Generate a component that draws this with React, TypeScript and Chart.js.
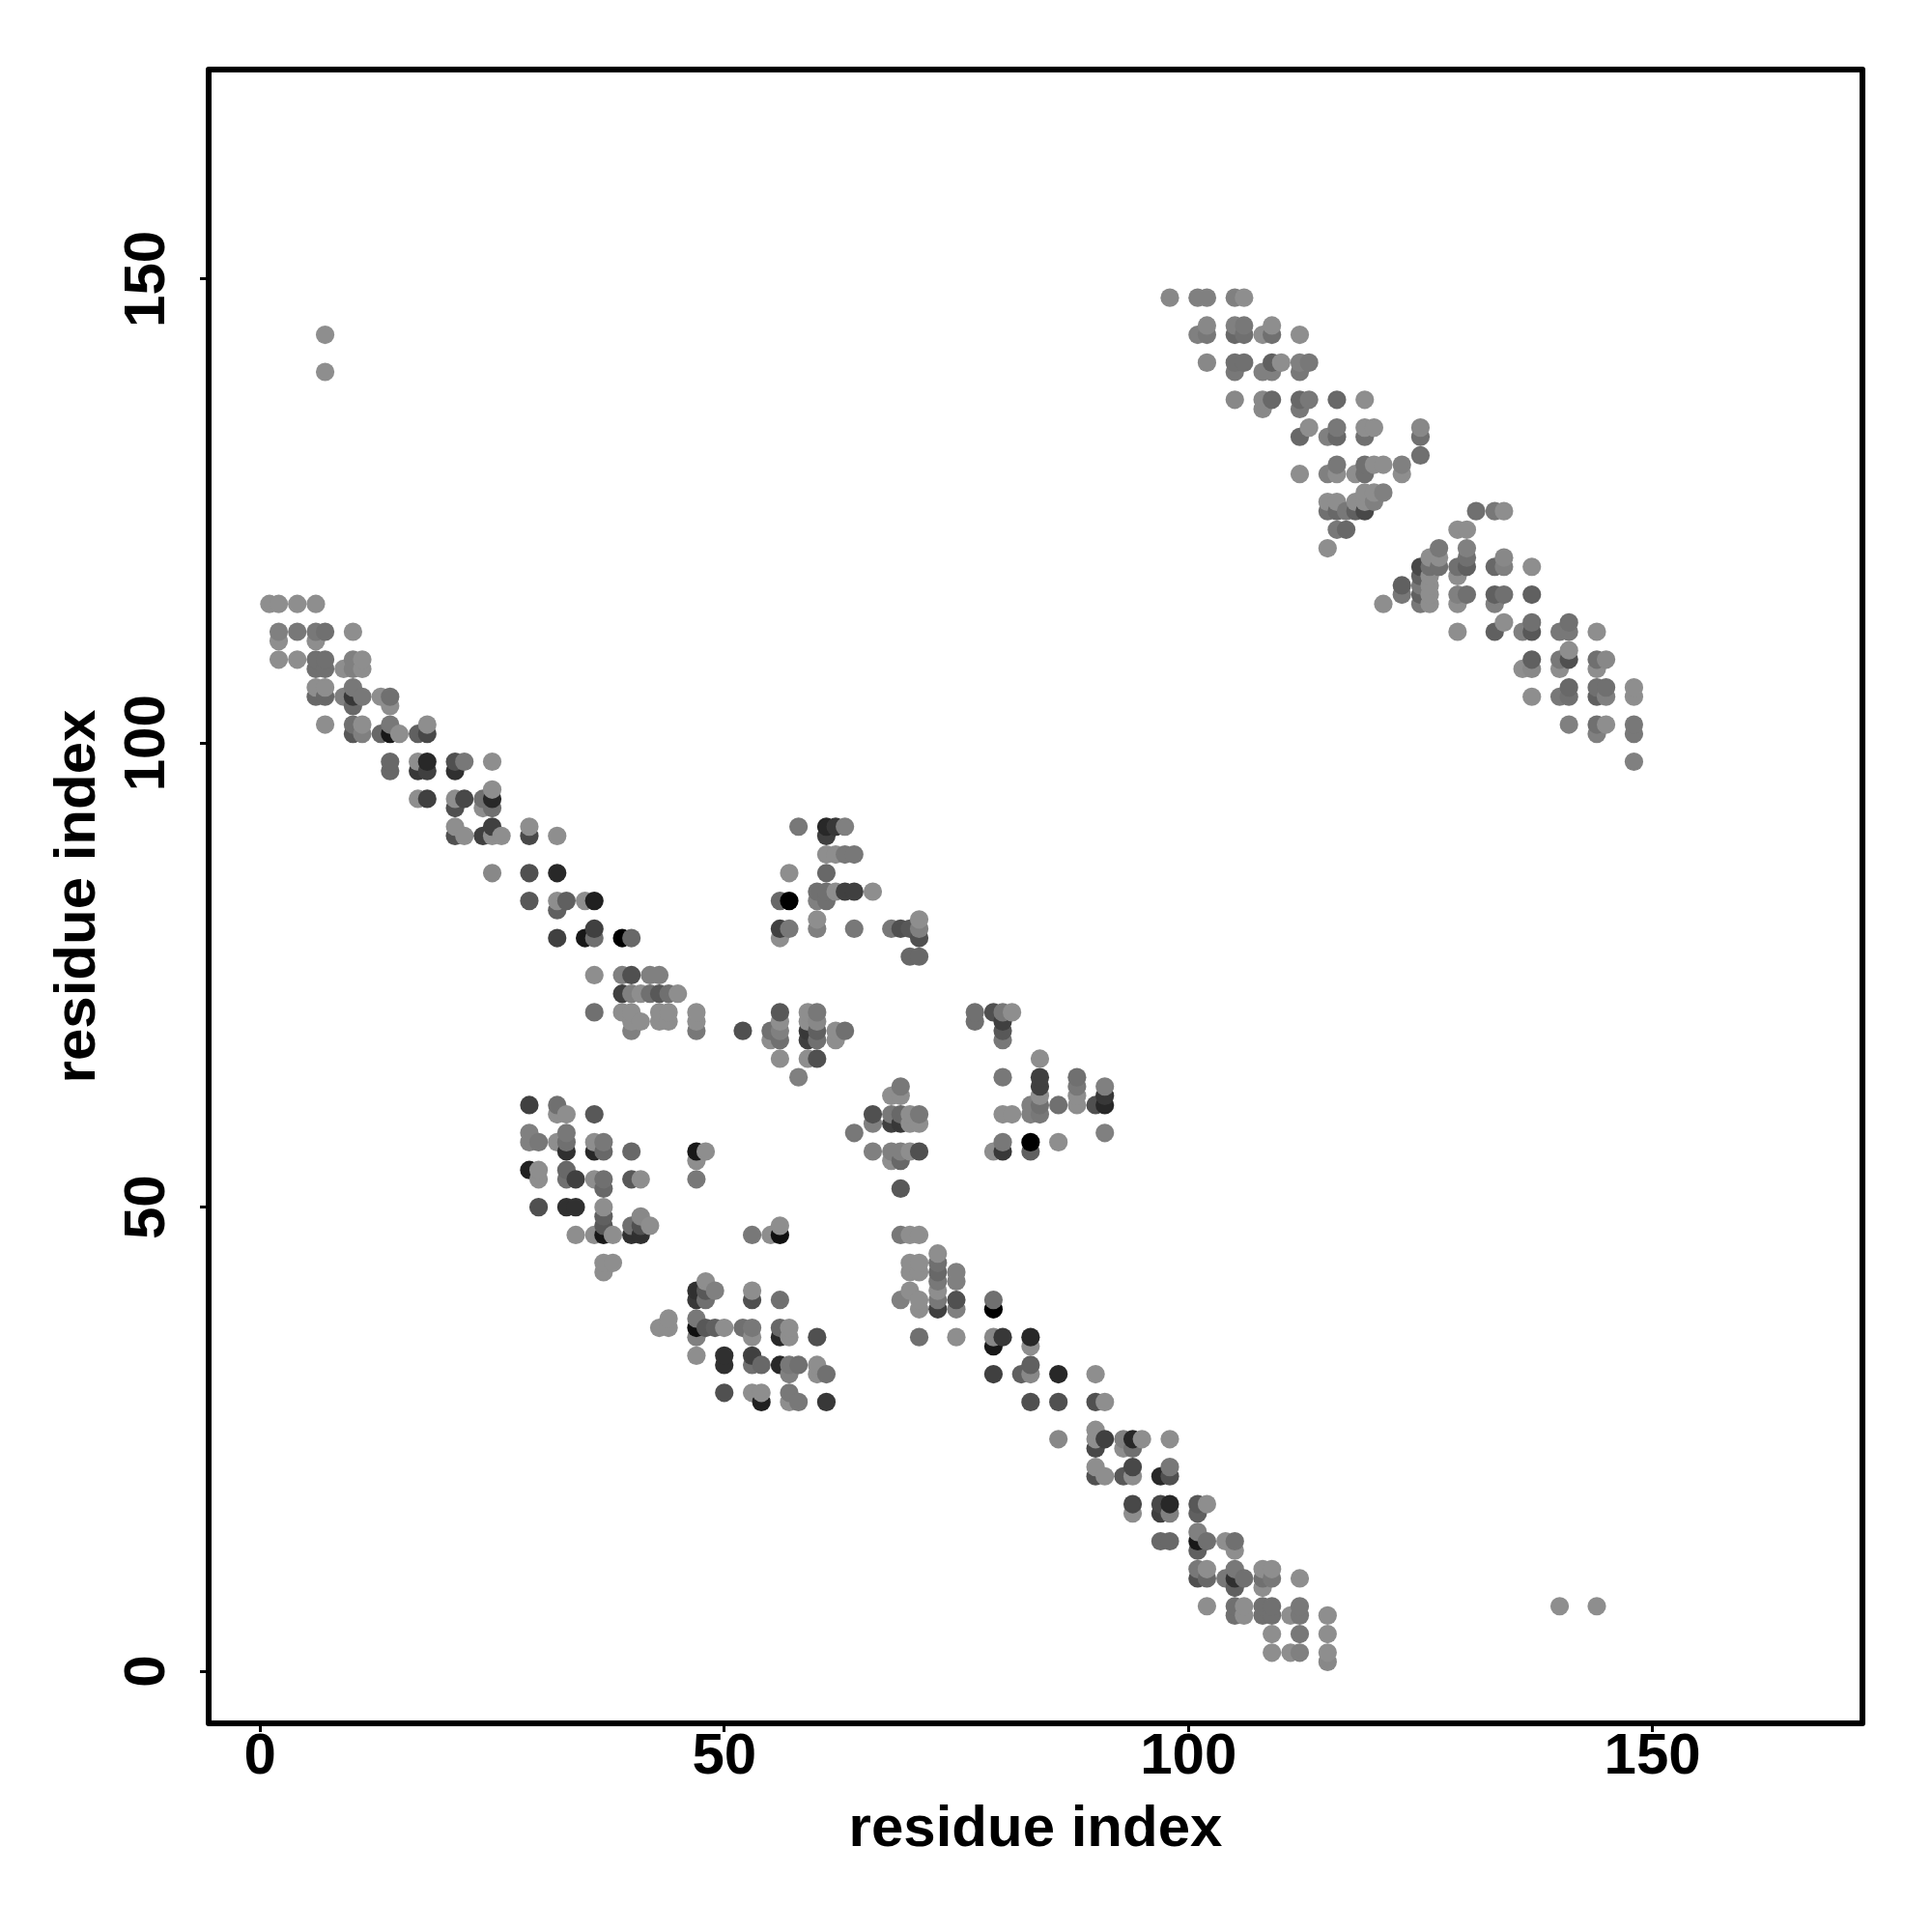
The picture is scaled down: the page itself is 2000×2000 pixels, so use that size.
import React, { useEffect, useRef } from "react";
import { Chart, registerables } from "chart.js";

Chart.register(...registerables);

type Contact = [number, number, number];
const L = 0x8e;

const tickValues = [0, 50, 100, 150];
const axisName = "residue index";

// [residue i, residue j, contact grey level]
const strandA: Contact[] = [
  [1,115,L],[2,115,L],[4,115,L],[6,115,L],
  [2,112,0x80],[4,112,0x78],[6,112,0x78],[7,112,0x70],[10,112,L],
  [2,111,L],[6,111,L],
  [2,109,L],[4,109,L],[6,109,0x70],[7,109,0x70],[10,109,0x80],[11,109,L],
  [6,108,0x70],[7,108,0x70],[9,108,L],[10,108,0x80],[11,108,L],
  [6,106,L],[7,106,L],[10,106,0x78],
  [6,105,0x68],[7,105,0x68],[9,105,0x80],[10,105,0x38],[11,105,0x78],[13,105,L],[14,105,0x70],
  [10,104,0x68],[14,104,L],
  [7,102,L],[10,102,0x70],[11,102,L],[14,102,0x78],[18,102,L],
  [10,101,0x58],[11,101,0x80],[13,101,0x68],[14,101,0x18],[15,101,L],[17,101,0x60],[18,101,0x48],
  [14,98,0x68],[17,98,L],[18,98,0x28],[21,98,0x50],[22,98,0x78],[25,98,L],
  [14,97,0x68],[17,97,0x38],[18,97,0x40],[21,97,0x30],
  [25,95,L],
  [17,94,L],[18,94,0x40],[21,94,L],[22,94,0x48],[24,94,0x70],[25,94,0x28],
  [21,93,0x50],[24,93,L],[25,93,0x70],
  [21,91,L],[25,91,0x40],[29,91,L],
  [21,90,0x50],[22,90,L],[24,90,0x40],[25,90,L],[26,90,L],[29,90,0x48],[32,90,L],
  [25,86,0x88],[29,86,0x50],[32,86,0x28],
  [29,83,0x58],[32,83,L],[33,83,0x60],[35,83,L],[36,83,0x20],
  [32,82,0x60],[36,80,0x40],
  [32,79,0x40],[35,79,0x18],[36,79,0x70],[39,79,0x00],[40,79,0x68],
  [36,75,L],[39,75,0x80],[40,75,0x50],[42,75,0x80],[43,75,0x80],
  [39,73,0x40],[40,73,0x80],[41,73,L],[42,73,0x70],[43,73,0x58],[44,73,0x70],[45,73,L],
  [36,71,0x70],[39,71,L],[40,71,L],[43,71,L],[44,71,L],[47,71,L],
  [40,70,L],[41,70,L],[43,70,L],[44,70,L],[47,70,L],
  [40,69,0x80],[47,69,0x78],
];

const blockTop: Contact[] = [
  [58,91,0x78],[61,91,0x28],[62,91,0x38],[63,91,0x80],[61,90,0x40],
  [61,88,L],[62,88,L],[63,88,0x78],[64,88,0x78],
  [57,86,L],[61,86,0x68],
  [60,84,0x70],[61,84,0x70],[62,84,L],[63,84,0x40],[64,84,0x40],[66,84,L],
  [56,83,0x68],[57,83,0x00],[60,83,0x80],[61,83,0x70],
  [60,81,L],[71,81,L],
  [56,80,0x40],[57,80,0x78],[60,80,0x80],[64,80,0x78],[68,80,0x78],[69,80,0x50],[70,80,0x58],[71,80,0x80],
  [56,79,L],[71,79,0x50],[70,77,0x68],[71,77,0x68],
];

const blockMiddle: Contact[] = [
  [56,71,0x58],[59,71,L],[60,71,0x78],
  [56,70,L],[59,70,L],[60,70,0x88],
  [52,69,0x50],[55,69,0x70],[56,69,0x80],[59,69,0x38],[60,69,0x60],[62,69,L],[63,69,0x70],
  [55,68,L],[56,68,0x70],[59,68,0x40],[60,68,0x70],[62,68,L],
  [56,66,L],[59,66,L],[60,66,0x50],[58,64,0x80],
];

const blockRight: Contact[] = [
  [77,71,0x70],[79,71,0x50],[80,71,0x78],[81,71,L],
  [77,70,0x70],[80,70,0x40],[80,69,0x58],[80,68,0x78],
  [84,66,L],[80,64,0x78],[84,64,0x40],[88,64,0x70],
  [84,63,0x40],[88,63,0x78],[91,63,0x80],
  [84,62,L],[88,62,L],[91,62,0x38],
  [83,61,0x80],[84,61,0x70],[86,61,0x70],[88,61,L],[90,61,0x50],[91,61,0x28],
  [80,60,L],[81,60,L],[83,60,0x80],[84,60,0x78],
  [91,58,0x80],
  [80,57,0x78],[83,57,0x00],[86,57,L],
  [79,56,L],[80,56,0x38],[83,56,0x60],
];

const blockCentre: Contact[] = [
  [69,63,0x78],[68,62,L],[69,62,L],
  [66,60,0x50],[68,60,0x78],[69,60,0x68],[70,60,L],[71,60,0x78],
  [66,59,0x80],[68,59,0x40],[69,59,0x38],[70,59,L],[71,59,L],
  [64,58,0x78],
  [66,56,0x80],[68,56,0x80],[69,56,0x80],[70,56,L],[71,56,0x50],
  [68,55,L],[69,55,0x68],[69,52,0x58],
  [53,47,0x78],[55,47,L],[56,47,0x10],[56,48,L],
  [69,47,0x78],[70,47,L],[71,47,L],
];

const blockLeft: Contact[] = [
  [29,61,0x40],[32,61,0x70],
  [32,60,L],[33,60,L],[36,60,0x58],
  [29,58,0x80],[33,58,0x78],
  [29,57,0x80],[30,57,0x78],[32,57,L],[33,57,0x70],[36,57,L],[37,57,0x78],
  [33,56,0x30],[36,56,0x28],[37,56,0x68],[40,56,0x68],[47,56,0x18],[48,56,L],
  [47,55,L],
  [29,54,0x20],[30,54,L],[33,54,0x68],
  [30,53,L],[33,53,0x70],[34,53,0x40],[36,53,L],[37,53,0x70],[40,53,0x58],[41,53,L],[47,53,0x78],
  [37,52,0x68],
  [30,50,0x50],[33,50,0x30],[34,50,0x30],[37,50,L],
  [37,49,0x60],[41,49,0x88],
  [37,48,0x58],[40,48,0x70],[41,48,0x50],[42,48,L],
  [34,47,L],[36,47,L],[37,47,0x18],[38,47,L],[40,47,0x30],[41,47,0x30],
  [37,44,L],[38,44,L],[37,43,L],
];

const blockLower: Contact[] = [
  [48,42,L],[47,41,0x30],[48,41,0x58],[49,41,0x80],[53,41,L],
  [47,40,0x38],[48,40,0x70],[53,40,0x50],[56,40,0x70],
  [44,38,L],[47,38,0x78],
  [43,37,L],[44,37,L],[47,37,0x10],[48,37,0x58],[49,37,0x60],[50,37,L],[52,37,0x70],[53,37,0x78],[56,37,0x68],[57,37,L],
  [47,36,0x80],[53,36,L],[56,36,0x28],[57,36,L],[60,36,0x50],
  [47,34,L],[50,34,0x30],[53,34,0x40],
  [50,33,0x30],[53,33,0x70],[54,33,0x68],[56,33,0x28],[57,33,0x78],[58,33,0x70],[60,33,L],
  [57,32,0x80],[60,32,L],[61,32,0x70],
  [50,30,0x50],[53,30,L],[54,30,L],[57,30,0x78],
  [54,29,0x20],[57,29,L],[58,29,0x78],[61,29,0x38],
];

const strandB: Contact[] = [
  [73,45,L],[70,44,L],[71,44,L],[73,44,0x70],
  [70,43,L],[71,43,L],[73,43,0x68],[75,43,0x80],
  [73,42,0x78],[75,42,0x80],
  [70,41,L],[73,41,L],
  [69,40,0x80],[71,40,L],[73,40,0x78],[75,40,0x50],[79,40,0x70],
  [71,39,L],[73,39,0x40],[75,39,0x80],[79,39,0x00],
  [71,36,0x70],[75,36,L],[79,36,0x88],[80,36,0x38],[83,36,0x28],
  [79,35,0x18],[83,35,L],[83,33,0x60],
  [79,32,0x40],[82,32,0x60],[83,32,0x88],[86,32,0x28],[90,32,L],
  [83,29,0x50],[86,29,0x50],[90,29,0x50],[91,29,L],
  [90,26,L],
  [86,25,0x88],[90,25,L],[91,25,0x40],[93,25,0x80],[94,25,0x28],[95,25,L],[98,25,L],
  [90,24,0x48],[93,24,L],[94,24,0x70],
  [90,22,L],[94,22,0x48],[98,22,0x78],
  [90,21,0x50],[91,21,L],[93,21,0x58],[94,21,L],[97,21,0x28],[98,21,0x50],
  [94,18,0x48],[97,18,0x48],[98,18,0x28],[101,18,0x58],[102,18,L],
  [94,17,L],[97,17,0x40],[98,17,0x80],[101,17,0x60],
  [101,15,0x80],
  [97,14,0x68],[98,14,0x68],[101,14,0x18],[102,14,0x70],[104,14,L],[105,14,0x70],
  [101,13,0x60],[105,13,L],
  [101,11,0x78],[102,11,L],[105,11,0x78],[108,11,L],[109,11,L],
  [101,10,0x50],[102,10,0x68],[104,10,0x78],[105,10,0x30],[106,10,0x70],[108,10,0x70],[109,10,0x78],[112,10,L],
  [105,9,0x60],[108,9,L],
  [102,7,L],[105,7,0x70],[106,7,L],[108,7,0x70],[109,7,0x70],[112,7,0x78],
  [105,6,0x70],[106,6,L],[108,6,0x70],[109,6,0x70],[111,6,L],[112,6,0x78],[115,6,L],
  [109,4,L],[112,4,0x78],[115,4,L],
  [109,2,L],[111,2,L],[112,2,0x80],[115,2,L],[115,1,0x88],
];

const strandC: Contact[] = [
  [98,148,0x88],[101,148,0x80],[102,148,0x80],[105,148,0x80],[106,148,L],
  [102,145,0x88],[105,145,0x80],[106,145,0x78],[109,145,L],
  [101,144,0x80],[102,144,0x78],[105,144,0x68],[106,144,0x70],[108,144,L],[109,144,0x70],[112,144,L],
  [102,141,0x88],[105,141,0x70],[106,141,0x70],[109,141,0x60],[110,141,L],[112,141,0x80],[113,141,0x78],
  [105,140,0x78],[108,140,0x80],[109,140,0x80],[112,140,0x78],
  [105,137,0x88],[108,137,0x88],[109,137,0x68],[112,137,0x68],[113,137,0x78],[116,137,0x68],[119,137,L],
  [108,136,0x88],[112,136,0x78],
  [113,134,L],[116,134,0x78],[119,134,L],[120,134,L],[125,134,0x88],
  [112,133,0x68],[115,133,0x80],[116,133,0x68],[119,133,0x70],[125,133,0x70],
  [125,131,0x70],
  [116,130,0x78],[119,130,0x70],[120,130,L],[121,130,L],[123,130,0x80],
  [112,129,L],[115,129,0x80],[116,129,L],[118,129,L],[119,129,0x70],[123,129,L],
  [119,127,L],[120,127,L],[121,127,0x80],
  [115,126,L],[116,126,L],[118,126,L],[119,126,L],[120,126,0x80],
  [115,125,0x70],[116,125,0x68],[117,125,0x78],[118,125,0x60],[119,125,0x48],
  [116,123,0x78],[117,123,0x68],[115,121,L],
];

const strandD: Contact[] = [
  [131,125,0x70],[133,125,0x78],[134,125,L],
  [129,123,L],[130,123,L],
  [127,121,0x78],[130,121,0x80],
  [126,120,L],[127,120,L],[130,120,0x70],[134,120,0x88],
  [125,119,0x48],[126,119,0x70],[127,119,0x70],[129,119,0x70],[130,119,0x60],[133,119,0x68],[134,119,0x80],[137,119,L],
  [125,118,0x60],[126,118,L],[129,118,L],
  [123,117,0x60],[125,117,0x78],[126,117,L],
  [123,116,0x78],[125,116,0x60],[126,116,L],[129,116,0x80],[130,116,0x70],[133,116,0x60],[134,116,0x70],[137,116,0x60],
  [121,115,L],[125,115,0x78],[126,115,L],[129,115,L],[133,115,0x80],
  [134,113,L],[137,113,0x70],[141,113,0x70],
  [129,112,L],[133,112,0x60],[136,112,0x80],[137,112,0x58],[140,112,0x78],[141,112,0x78],[144,112,L],
  [141,110,L],
  [137,109,0x60],[140,109,0x78],[141,109,0x50],[144,109,0x70],[145,109,0x88],
  [136,108,L],[137,108,0x88],[140,108,L],[144,108,L],
  [141,106,0x68],[144,106,0x70],[145,106,0x70],[148,106,L],
  [137,105,L],[140,105,0x78],[141,105,0x70],[144,105,0x60],[145,105,0x80],[148,105,L],
  [141,102,0x80],[144,102,0x70],[145,102,L],[148,102,0x78],
  [144,101,0x80],[148,101,0x78],[148,98,0x80],
];

const outliers: Contact[] = [[7,144,L],[7,140,L],[140,7,L],[144,7,L]];

const contacts: Contact[] = [
  ...strandA, ...blockTop, ...blockMiddle, ...blockRight, ...blockCentre,
  ...blockLeft, ...blockLower, ...strandB, ...strandC, ...strandD, ...outliers,
].sort((a, b) => a[0] - b[0] || a[1] - b[1]);

const frame = {
  id: "frame",
  afterDatasetsDraw(chart: any) {
    const { ctx, chartArea: a } = chart;
    ctx.save();
    ctx.strokeStyle = "#000";
    ctx.lineWidth = 6;
    ctx.lineJoin = "round";
    ctx.strokeRect(a.left, a.top, a.right - a.left, a.bottom - a.top);
    ctx.restore();
  },
};

const FONT = "'Liberation Sans', Arial, sans-serif";

export default function App() {
  const ref = useRef<HTMLCanvasElement>(null);
  useEffect(() => {
    const setTicks = (scale: any) => {
      scale.ticks = tickValues.map((value) => ({ value }));
    };
    const gridOpts = { display: true, drawOnChartArea: false, drawTicks: true, tickLength: 9, color: "#000", lineWidth: 3 };
    const chart = new Chart(ref.current as HTMLCanvasElement, {
      type: "scatter",
      data: {
        datasets: [
          {
            data: contacts.map(([x, y]) => ({ x, y })),
            pointRadius: 9.6,
            pointBorderWidth: 0,
            pointBackgroundColor: contacts.map(([, , g]) => `rgb(${g},${g},${g})`),
            showLine: false,
          },
        ],
      },
      plugins: [frame],
      options: {
        animation: false,
        responsive: false,
        devicePixelRatio: 1,
        layout: { autoPadding: false, padding: { left: 0, right: 72, top: 72, bottom: 0 } },
        plugins: { legend: { display: false }, tooltip: { enabled: false } },
        scales: {
          x: {
            type: "linear",
            min: -5.547,
            max: 172.62,
            afterBuildTicks: setTicks,
            afterFit: (s: any) => { s.height = 216; },
            grid: gridOpts,
            border: { display: false },
            ticks: { color: "#000", padding: -10, maxRotation: 0, minRotation: 0, font: { family: FONT, weight: "bold", size: 60 }, callback: (v: any) => String(v) },
            title: { display: true, text: axisName, color: "#000", padding: { top: 0, bottom: 70 }, font: { family: FONT, weight: "bold", size: 60 } },
          },
          y: {
            type: "linear",
            min: -5.62,
            max: 172.58,
            afterBuildTicks: setTicks,
            afterFit: (s: any) => { s.width = 216; },
            grid: gridOpts,
            border: { display: false },
            ticks: { color: "#000", padding: 3, minRotation: 90, maxRotation: 90, crossAlign: "center", font: { family: FONT, weight: "bold", size: 60 }, callback: (v: any) => String(v) },
            title: { display: true, text: axisName, color: "#000", padding: { top: 45, bottom: 0 }, font: { family: FONT, weight: "bold", size: 60 } },
          },
        },
      },
    } as any);
    return () => chart.destroy();
  }, []);
  return <canvas ref={ref} width={2000} height={2000} style={{ position: "absolute", left: 0, top: 0 }} />;
}
